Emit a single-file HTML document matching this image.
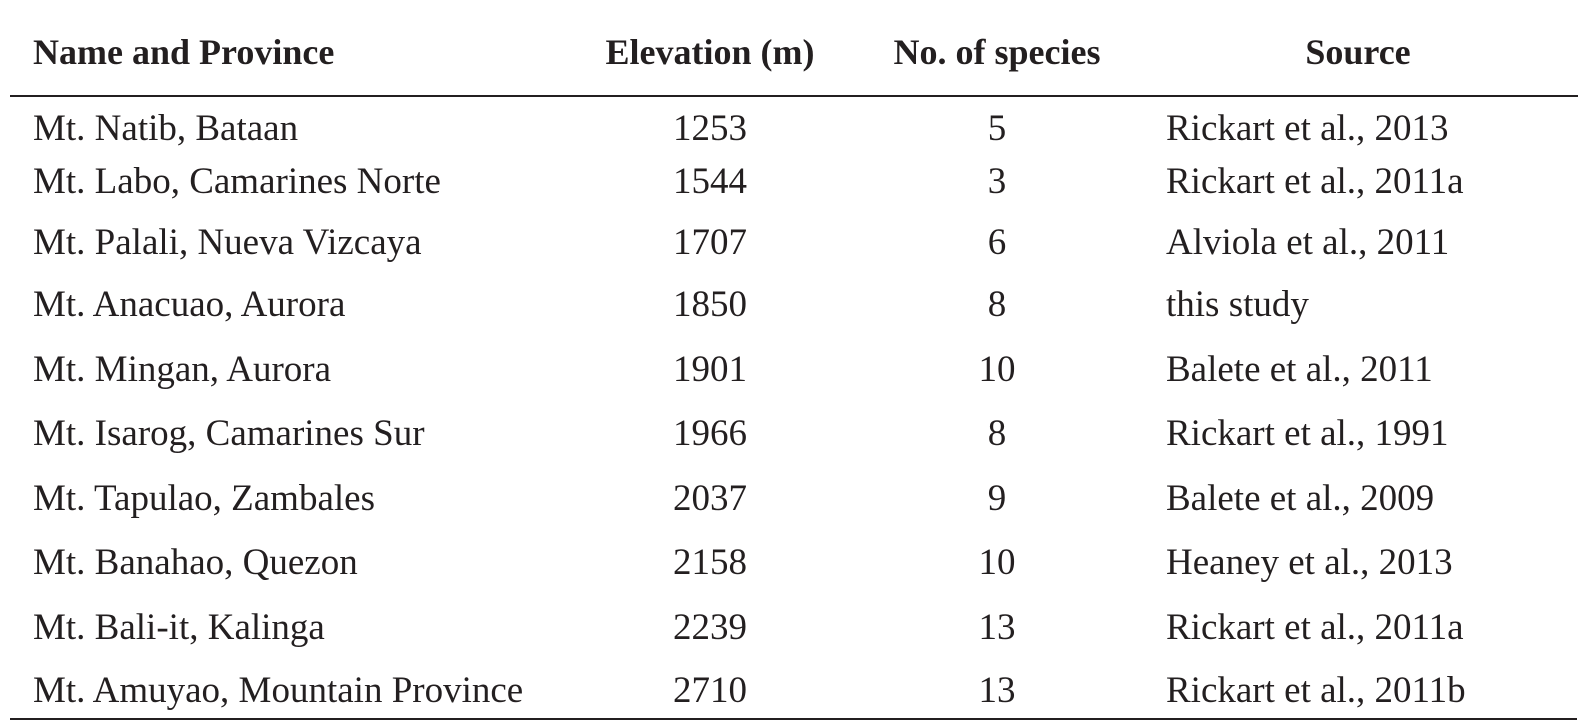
<!DOCTYPE html>
<html><head><meta charset="utf-8"><style>
body{margin:0;width:1578px;height:722px;background:#fff;position:relative;overflow:hidden;font-family:"Liberation Serif",serif;color:#231f20}
.t{position:absolute;font-size:37px;line-height:1;white-space:nowrap}
.h{font-weight:bold;font-size:36px}
.c{transform:translateX(-50%)}
.line{position:absolute;left:10px;right:0;height:2px;background:#231f20}
</style></head><body>
<div id="tbl"></div>
<div class="line" style="top:95px"></div>
<div class="line" style="top:718px;right:1px"></div>
<script>
const names=["Mt. Natib, Bataan","Mt. Labo, Camarines Norte","Mt. Palali, Nueva Vizcaya","Mt. Anacuao, Aurora","Mt. Mingan, Aurora","Mt. Isarog, Camarines Sur","Mt. Tapulao, Zambales","Mt. Banahao, Quezon","Mt. Bali-it, Kalinga","Mt. Amuyao, Mountain Province"];
const elevations=[1253,1544,1707,1850,1901,1966,2037,2158,2239,2710];
const species=[5,3,6,8,10,8,9,10,13,13];
const sources=["Rickart et al., 2013","Rickart et al., 2011a","Alviola et al., 2011","this study","Balete et al., 2011","Rickart et al., 1991","Balete et al., 2009","Heaney et al., 2013","Rickart et al., 2011a","Rickart et al., 2011b"];
const headers=["Name and Province","Elevation (m)","No. of species","Source"];
const baselines=[141,194,255,317,382,446,511,575,640,703];
const tbl=document.getElementById('tbl');
function add(txt,x,base,cls,name,fs){
  const d=document.createElement('div');
  d.className='t '+cls;
  d.textContent=txt;
  d.style.left=x+'px';
  d.style.top=(base-0.8375*fs)+'px';
  
  
  tbl.appendChild(d);
}
add(headers[0],33,64,'h','header-name',36);
add(headers[1],710,64,'h c','header-elevation',36);
add(headers[2],997,64,'h c','header-species',36);
add(headers[3],1358,64,'h c','header-source',36);
for(let i=0;i<names.length;i++){
  add(names[i],33,baselines[i],'','cell-name',37);
  add(String(elevations[i]),710,baselines[i],'c','cell-elevation',37);
  add(String(species[i]),997,baselines[i],'c','cell-species',37);
  add(sources[i],1166,baselines[i],'','cell-source',37);
}
</script>
</body></html>
